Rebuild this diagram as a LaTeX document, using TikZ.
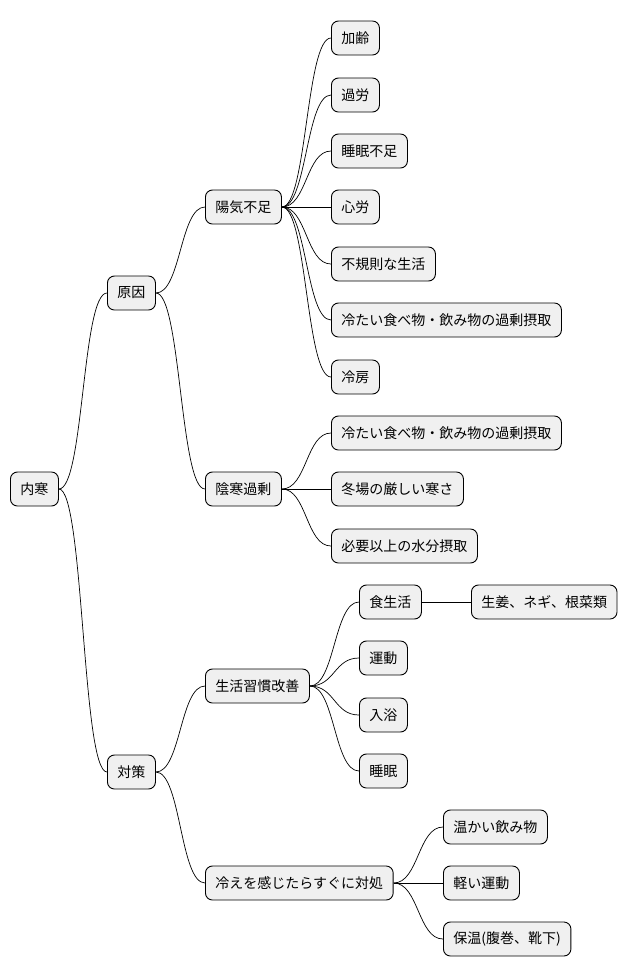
\documentclass[tikz,border=0pt]{standalone}
\usepackage{fontspec}
\setmainfont{Noto Sans CJK JP}
\begin{document}
\begin{tikzpicture}[x=1pt,y=-1pt,
  box/.style={draw,rounded corners=7pt,fill=black!6,line width=0.9pt,anchor=west,
    minimum height=34pt,inner xsep=10pt,inner ysep=0pt,
    font=\fontsize{14}{16}\selectfont},
  link/.style={line width=0.7pt}]
\useasboundingbox (0,0) rectangle (628,978);
\begin{scope}
\node[box] (root) at (10,489) {内寒};
\node[box] (cause) at (107,293) {原因};
\node[box] (meas) at (107,772) {対策};
\node[box] (yang) at (205,207) {陽気不足};
\node[box] (yin) at (205,489) {陰寒過剰};
\node[box] (life) at (205,686) {生活習慣改善};
\node[box] (cold) at (205,883) {冷えを感じたらすぐに対処};
\node[box] (y1) at (331,38) {加齢};
\node[box] (y2) at (331,95) {過労};
\node[box] (y3) at (331,151) {睡眠不足};
\node[box] (y4) at (331,207) {心労};
\node[box] (y5) at (331,264) {不規則な生活};
\node[box] (y6) at (331,320) {冷たい食べ物・飲み物の過剰摂取};
\node[box] (y7) at (331,377) {冷房};
\node[box] (n1) at (331,433) {冷たい食べ物・飲み物の過剰摂取};
\node[box] (n2) at (331,489) {冬場の厳しい寒さ};
\node[box] (n3) at (331,546) {必要以上の水分摂取};
\node[box] (l1) at (359,602) {食生活};
\node[box] (l2) at (359,658) {運動};
\node[box] (l3) at (359,715) {入浴};
\node[box] (l4) at (359,771) {睡眠};
\node[box] (food) at (471,602) {生姜、ネギ、根菜類};
\node[box] (c1) at (443,827) {温かい飲み物};
\node[box] (c2) at (443,883) {軽い運動};
\node[box] (c3) at (443,939) {保温(腹巻、靴下)};
% connectors
\foreach \a/\b in {root/cause,root/meas,cause/yang,cause/yin,meas/life,meas/cold,
  yang/y1,yang/y2,yang/y3,yang/y4,yang/y5,yang/y6,yang/y7,
  yin/n1,yin/n2,yin/n3,life/l1,life/l2,life/l3,life/l4,l1/food,
  cold/c1,cold/c2,cold/c3}
  \draw[link] (\a.east) .. controls +(25,0) and +(-25,0) .. (\b.west);
\end{scope}
\end{tikzpicture}
\end{document}
